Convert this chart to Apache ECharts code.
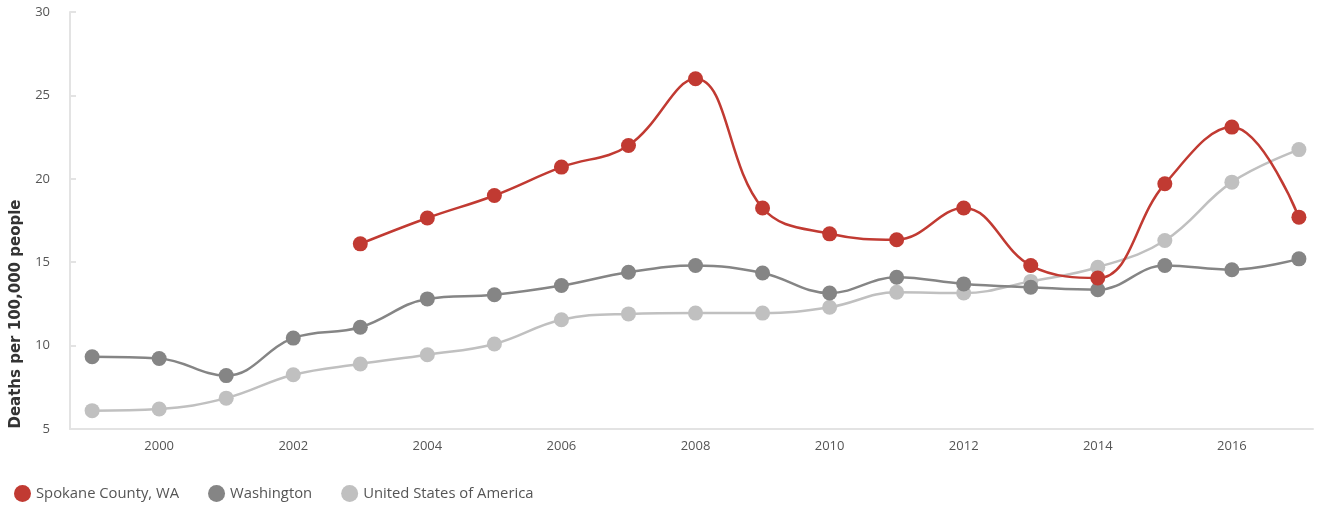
<!DOCTYPE html>
<html>
<head>
<meta charset="utf-8">
<script src="https://cdn.jsdelivr.net/npm/echarts@6/dist/echarts.min.js"></script>
<style>html,body{margin:0;padding:0;background:#fff}#c{width:1319px;height:507px}</style>
</head>
<body>
<div id="c"></div>
<script>
const years = [1999,2000,2001,2002,2003,2004,2005,2006,2007,2008,2009,2010,2011,2012,2013,2014,2015,2016,2017];
const xTickLabels = [2000,2002,2004,2006,2008,2010,2012,2014,2016];
const spokane = [null,null,null,null,16.1,17.65,19.0,20.7,22.0,26.0,18.25,16.7,16.35,18.25,14.8,14.05,19.7,23.1,17.7];
const washington = [9.33,9.23,8.2,10.45,11.1,12.8,13.05,13.6,14.4,14.8,14.35,13.15,14.1,13.7,13.5,13.35,14.8,14.55,15.2];
const usa = [6.1,6.2,6.85,8.25,8.9,9.45,10.1,11.55,11.9,11.95,11.95,12.3,13.2,13.15,13.85,14.7,16.3,19.8,21.75];
const seriesNames = ['Spokane County, WA','Washington','United States of America'];
const colors = ['#c13a32','#858585','#c0c0c0'];

const font = '"Open Sans", "Noto Sans", sans-serif';
function pairs(arr){ return years.map((y,i)=>[y,arr[i]]).filter(p=>p[1]!==null); }
const chart = echarts.init(document.getElementById('c'));
chart.setOption({
  animation:false,
  color: colors,
  textStyle:{fontFamily:font},
  grid:{left:70,right:6,top:12,bottom:78},
  legend:{
    left:9, top:480, icon:'circle', itemWidth:17, itemHeight:17, itemGap:29,
    textStyle:{color:'#555',fontSize:14.8,fontFamily:font},
    data: seriesNames
  },
  xAxis:{
    type:'value', min:1998.67, max:2017.21,
    axisLine:{show:true,lineStyle:{color:'#e3e3e3',width:2}},
    axisTick:{show:false},
    splitLine:{show:false},
    axisLabel:{customValues:xTickLabels, color:'#555', fontSize:13, margin:11, fontFamily:font, formatter:v=>String(v)}
  },
  yAxis:{
    type:'value', min:5, max:30, interval:5,
    name:'Deaths per 100,000 people', nameLocation:'middle', nameRotate:90, nameGap:46,
    nameTextStyle:{fontWeight:'bold',fontSize:15,color:'#333',fontFamily:'"DejaVu Sans", sans-serif',padding:[0,187,0,0]},
    axisLine:{show:true,lineStyle:{color:'#e3e3e3',width:2}},
    axisTick:{show:true,inside:true,length:6,lineStyle:{color:'#e3e3e3',width:2}},
    splitLine:{show:false},
    axisLabel:{color:'#555',fontSize:13,margin:20,fontFamily:font}
  },
  series:[spokane,washington,usa].map((arr,i)=>({
    name:seriesNames[i], type:'line', data:pairs(arr), smooth:0.4,
    symbol:'circle', symbolSize:15, z: 10-i,
    lineStyle:{width:2.5,color:colors[i]}, itemStyle:{color:colors[i]}
  }))
});
</script>
</body>
</html>
